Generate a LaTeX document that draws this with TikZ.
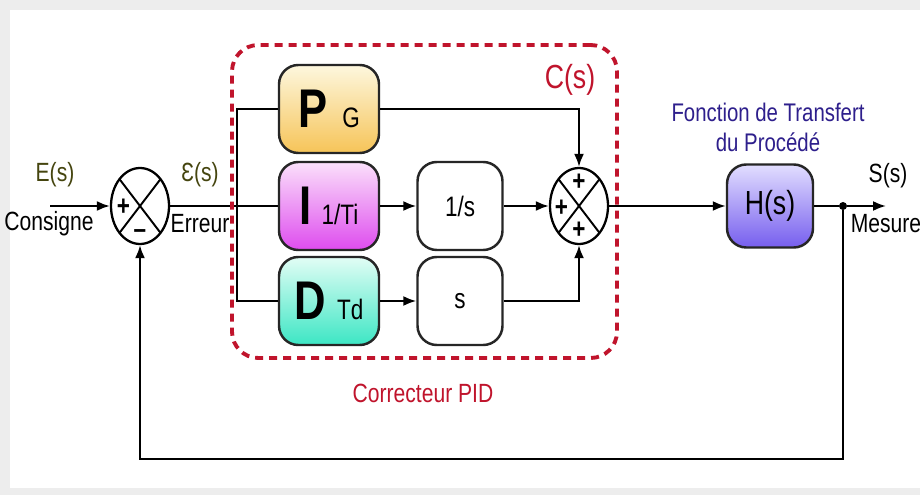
\documentclass[tikz,border=0pt]{standalone}
\usepackage{fontspec}
\setmainfont{Liberation Sans}[FakeStretch=0.8]
\usetikzlibrary{arrows.meta,shapes.geometric}

\definecolor{pidred}{HTML}{C0142C}
\definecolor{procblue}{HTML}{2E1F8C}
\definecolor{sigolive}{HTML}{45450F}

\newcommand{\pidletter}[1]{{\fontsize{31}{32}\selectfont\bfseries #1}}

\begin{document}
\begin{tikzpicture}[
    font=\fontsize{15}{17}\selectfont,
    gain/.style={draw=black!85, rounded corners=11pt, line width=1.4pt,
        minimum width=2.0cm, minimum height=1.76cm, inner sep=0pt,
        font=\fontsize{16}{18}\selectfont},
    pgain/.style={gain, top color={rgb,255:red,253;green,247;blue,222},
        bottom color={rgb,255:red,246;green,196;blue,88}},
    igain/.style={gain, top color={rgb,255:red,251;green,224;blue,251},
        bottom color={rgb,255:red,222;green,76;blue,238}},
    dgain/.style={gain, top color={rgb,255:red,226;green,253;blue,245},
        bottom color={rgb,255:red,60;green,230;blue,196}},
    hgain/.style={gain, minimum width=1.72cm, minimum height=1.66cm,
        top color={rgb,255:red,226;green,222;blue,255},
        bottom color={rgb,255:red,118;green,94;blue,238}},
    opbox/.style={gain, fill=white, minimum width=1.7cm},
    sumnode/.style={draw, ellipse, line width=1.3pt, inner sep=0pt,
        minimum width=1.16cm, minimum height=1.52cm, fill=white,
        path picture={
            \draw[line width=1.1pt]
                (path picture bounding box.south west) -- (path picture bounding box.north east)
                (path picture bounding box.north west) -- (path picture bounding box.south east);
        }},
    sign/.style={font=\fontsize{16}{16}\selectfont\bfseries, inner sep=0pt},
    tap/.style={circle, fill=black, inner sep=0pt, minimum size=0.16cm},
    sig/.style={inner sep=1pt},
    wire/.style={line width=1.2pt},
    arrow/.style={-{Latex[length=2.6mm, width=2.0mm]}, line width=1.2pt},
    pidframe/.style={draw=pidred, dash pattern=on 0.16cm off 0.12cm,
        line width=2.2pt, rounded corners=15pt,
        minimum width=7.70cm, minimum height=6.26cm}
]
    \useasboundingbox (0,0) rectangle (18.4,9.9);
    \fill[black!7] (0,0) rectangle (18.4,9.9);
    \fill[white] (0.2,0.14) rectangle (18.4,9.7);

    % summing junctions
    \node[sumnode] (sum_in) at (2.80, 5.78) {};
    \node[sign] (sum_in_plus) at (2.47, 5.76) {+};
    \node[sign] (sum_in_minus) at (2.80, 5.22) {--};
    \node[sumnode] (sum_out) at (11.58, 5.78) {};
    \node[sign] (sum_out_top) at (11.58, 6.26) {+};
    \node[sign] (sum_out_left) at (11.23, 5.74) {+};
    \node[sign] (sum_out_bot) at (11.58, 5.30) {+};

    % PID branches
    \node[pgain] (p_box) at (6.58, 7.72) {\pidletter{P}\hspace{0.3cm}G};
    \node[igain] (i_box) at (6.58, 5.78) {\pidletter{I}\hspace{0.2cm}1/Ti};
    \node[dgain] (d_box) at (6.58, 3.88) {\pidletter{D}\hspace{0.22cm}Td};
    \node[opbox] (int_box) at (9.20, 5.78) {1/s};
    \node[opbox] (s_box) at (9.20, 3.88) {s};

    % process
    \node[hgain] (h_box) at (15.40, 5.78) {\fontsize{19}{21}\selectfont H(s)};
    \node[tap] (out_tap) at (16.86, 5.78) {};

    \coordinate (in_start) at (1.0, 5.78);
    \coordinate (branch_mid) at (4.74, 5.78);
    \coordinate (out_end) at (17.72, 5.78);
    \coordinate (fb_corner) at (2.80, 0.72);

    \draw[arrow] (in_start) -- (sum_in.west);
    \draw[wire] (sum_in.east) -- (i_box.west);
    \draw[wire] (p_box.west) -| (branch_mid) |- (d_box.west);
    \draw[arrow] (p_box.east) -| (sum_out.north);
    \draw[arrow] (i_box.east) -- (int_box.west);
    \draw[arrow] (int_box.east) -- (sum_out.west);
    \draw[arrow] (d_box.east) -- (s_box.west);
    \draw[arrow] (s_box.east) -| (sum_out.south);
    \draw[arrow] (sum_out.east) -- (h_box.west);
    \draw[wire] (h_box.east) -- (out_tap);
    \draw[arrow] (out_tap) -- (out_end);
    \draw[arrow] (out_tap) |- (fb_corner) -- (sum_in.south);

    \node[pidframe] (pid_frame) at (8.49, 5.87) {};

    % labels
    \node[sig, text=sigolive] (e_lbl) at (1.10, 6.40) {E(s)};
    \node[sig] (consigne_lbl) at (0.98, 5.43) {Consigne};
    \node[sig, text=sigolive] (eps_lbl) at (4.00, 6.40) {Ɛ(s)};
    \node[sig] (erreur_lbl) at (4.00, 5.43) {Erreur};
    \node[sig, text=pidred, font=\fontsize{19}{21}\selectfont] (c_lbl)
        at (11.40, 8.30) {C(s)};
    \node[sig, text=pidred] (pid_lbl) at (8.46, 2.04) {Correcteur PID};
    \node[sig, text=procblue, align=center, font=\fontsize{14.5}{17}\selectfont]
        (proc_lbl) at (15.36, 7.36) {Fonction de Transfert\\du Procédé};
    \node[sig] (s_lbl) at (17.76, 6.38) {S(s)};
    \node[sig] (mesure_lbl) at (17.72, 5.43) {Mesure};
\end{tikzpicture}
\end{document}
